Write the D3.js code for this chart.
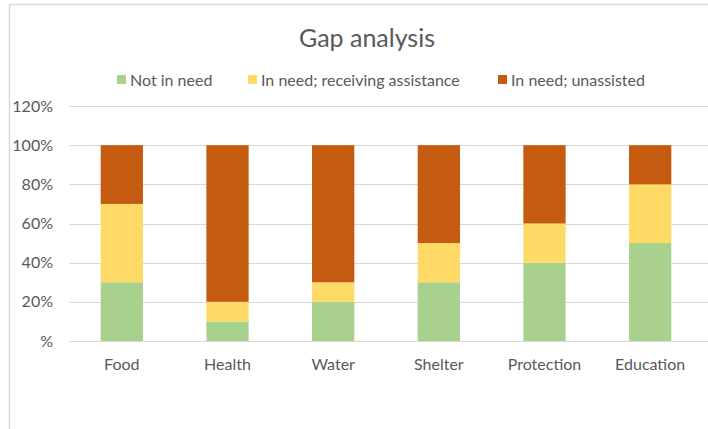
<!DOCTYPE html>
<meta charset="utf-8">
<style>
body { margin: 0; background: #fff; }
text { font-family: Lato, "Open Sans", sans-serif; fill: #595959; }
.grid line { stroke: #d9d9d9; stroke-width: 1px; }
</style>
<svg width="708" height="429"></svg>
<script src="https://d3js.org/d3.v7.min.js"></script>
<script>

var categories = ["Food", "Health", "Water", "Shelter", "Protection", "Education"];
var seriesNames = ["Not in need", "In need; receiving assistance", "In need; unassisted"];
var notInNeed   = [30, 10, 20, 30, 40, 50];
var receiving   = [40, 10, 10, 20, 20, 30];
var unassisted  = [30, 80, 70, 50, 40, 20];
var yTicks = [0, 20, 40, 60, 80, 100, 120];
var colors = ["#a9d18e", "#ffd966", "#c55a11"];

var svg = d3.select("svg");

// chart area border (only top and left show in the frame)
svg.append("line").attr("x1", 9).attr("y1", 4.5).attr("x2", 708).attr("y2", 4.5)
    .attr("stroke", "#d9d9d9").attr("stroke-width", 1.5);
svg.append("line").attr("x1", 9.5).attr("y1", 4).attr("x2", 9.5).attr("y2", 429)
    .attr("stroke", "#d9d9d9").attr("stroke-width", 1.5);

var plotLeft = 69, plotRight = 703, plotTop = 106, plotBottom = 341;

var x = d3.scaleBand().domain(categories).range([plotLeft, plotRight])
    .paddingInner(0.6).paddingOuter(0.3);
var y = d3.scaleLinear().domain([0, 120]).range([plotBottom, plotTop]);

// gridlines
svg.append("g").attr("class", "grid")
  .selectAll("line").data(yTicks).enter().append("line")
    .attr("x1", plotLeft).attr("x2", 708)
    .attr("y1", function(d) { return Math.round(y(d)) + 0.5; })
    .attr("y2", function(d) { return Math.round(y(d)) + 0.5; });

// y labels
svg.append("g").selectAll("text").data(yTicks).enter().append("text")
    .attr("x", 53)
    .attr("y", function(d) { return y(d); })
    .attr("dy", "0.35em")
    .attr("text-anchor", "end")
    .style("font-size", "16px")
    .text(function(d) { return d === 0 ? "%" : d + "%"; });

// stacked bars
var rows = categories.map(function(c, i) {
  return {cat: c, a: notInNeed[i], b: receiving[i], c: unassisted[i]};
});
var stack = d3.stack().keys(["a", "b", "c"]);
var layers = stack(rows);

svg.append("g").selectAll("g").data(layers).enter().append("g")
    .attr("fill", function(d, i) { return colors[i]; })
  .selectAll("rect").data(function(d) { return d; }).enter().append("rect")
    .attr("x", function(d) { return x(d.data.cat); })
    .attr("width", x.bandwidth())
    .attr("y", function(d) { return y(d[1]); })
    .attr("height", function(d) { return y(d[0]) - y(d[1]); });

// x labels
svg.append("g").selectAll("text").data(categories).enter().append("text")
    .attr("x", function(d) { return x(d) + x.bandwidth() / 2; })
    .attr("y", 370)
    .attr("text-anchor", "middle")
    .style("font-size", "16px")
    .text(function(d) { return d; });

// title
svg.append("text")
    .attr("x", 367).attr("y", 47)
    .attr("text-anchor", "middle")
    .style("font-size", "25px")
    .text("Gap analysis");

// legend
var legendX = [117, 248, 498];
var leg = svg.append("g").selectAll("g").data(seriesNames).enter().append("g")
    .attr("transform", function(d, i) { return "translate(" + legendX[i] + ",75)"; });
leg.append("rect").attr("width", 9).attr("height", 9)
    .attr("fill", function(d, i) { return colors[i]; });
leg.append("text").attr("x", 13).attr("y", 5).attr("dy", "0.35em")
    .style("font-size", "16px")
    .text(function(d) { return d; });

</script>
